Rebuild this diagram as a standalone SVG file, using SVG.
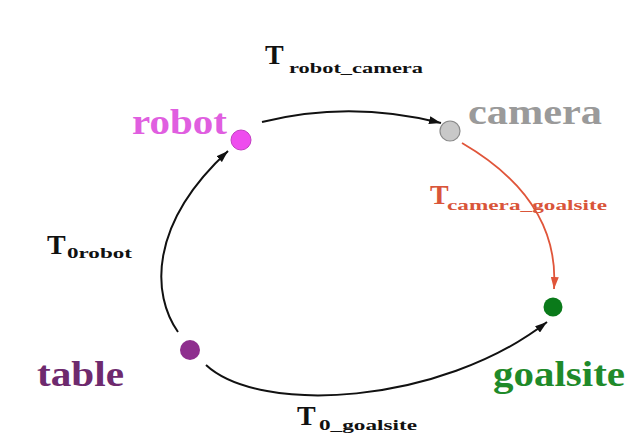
<svg xmlns="http://www.w3.org/2000/svg" width="625" height="447" viewBox="0 0 625 447">
<style>
  .lbl { font-family: "Liberation Serif", "Times New Roman", serif; font-weight: bold; }
  .big { font-size: 36px; }
  .tT { font-size: 28px; }
  .sub { font-size: 15px; }
  .edge { fill: none; stroke: #111; stroke-width: 2; }
  .edge.red { stroke: #e0553a; stroke-width: 1.8; }
</style>
<defs>
  <marker id="ah" viewBox="0 0 12 8" refX="12" refY="4" markerWidth="12" markerHeight="8" markerUnits="userSpaceOnUse" orient="auto">
    <path d="M0,0 L12,4 L0,8 Z" fill="#111"/>
  </marker>
  <marker id="ahr" viewBox="0 0 12 8" refX="12" refY="4" markerWidth="12" markerHeight="8" markerUnits="userSpaceOnUse" orient="auto">
    <path d="M0,0 L12,4 L0,8 Z" fill="#e0553a"/>
  </marker>
</defs>
<rect width="625" height="447" fill="#fff"/>
<g id="connectors">
  <path class="edge" d="M262,122 Q350,100 441,123" marker-end="url(#ah)"/>
  <path class="edge" d="M178,332 C152,295 148,225 228,151" marker-end="url(#ah)"/>
  <path class="edge red" d="M462,143 Q560,200 554,289" marker-end="url(#ahr)"/>
  <path class="edge" d="M206,365 C260,415 440,405 547,322" marker-end="url(#ah)"/>
  <text class="lbl tT" x="265" y="64" fill="#111">T</text>
  <text class="lbl sub" x="289" y="73" fill="#111" textLength="134" lengthAdjust="spacingAndGlyphs">robot_camera</text>
  <text class="lbl tT" x="47" y="254" fill="#111">T</text>
  <text class="lbl sub" x="67" y="258" fill="#111" textLength="65" lengthAdjust="spacingAndGlyphs">0robot</text>
  <text class="lbl tT" x="430" y="204" fill="#d9553a">T</text>
  <text class="lbl sub" x="447" y="210" fill="#d9553a" textLength="160" lengthAdjust="spacingAndGlyphs">camera_goalsite</text>
  <text class="lbl tT" x="297" y="425" fill="#111">T</text>
  <text class="lbl sub" x="319" y="430" fill="#111" textLength="98" lengthAdjust="spacingAndGlyphs">0_goalsite</text>
</g>
<g id="robot">
  <circle cx="241" cy="140" r="10" fill="#ee4cee" stroke="#c23ec2" stroke-width="1"/>
  <text class="lbl big" x="132" y="134" fill="#e05ee0" textLength="95" lengthAdjust="spacingAndGlyphs">robot</text>
</g>
<g id="camera">
  <circle cx="450" cy="131" r="10" fill="#c8c8c8" stroke="#8a8a8a" stroke-width="1.2"/>
  <text class="lbl big" x="468" y="124" fill="#9a9a9a" textLength="134" lengthAdjust="spacingAndGlyphs">camera</text>
</g>
<g id="goalsite">
  <circle cx="553" cy="307" r="9.5" fill="#0a7a1a"/>
  <text class="lbl big" x="493" y="386" fill="#1f8a2a" textLength="132" lengthAdjust="spacingAndGlyphs">goalsite</text>
</g>
<g id="table">
  <circle cx="190" cy="350" r="10" fill="#8e2e8e"/>
  <text class="lbl big" x="37" y="386" fill="#6e2a6e" textLength="87" lengthAdjust="spacingAndGlyphs">table</text>
</g>
</svg>
